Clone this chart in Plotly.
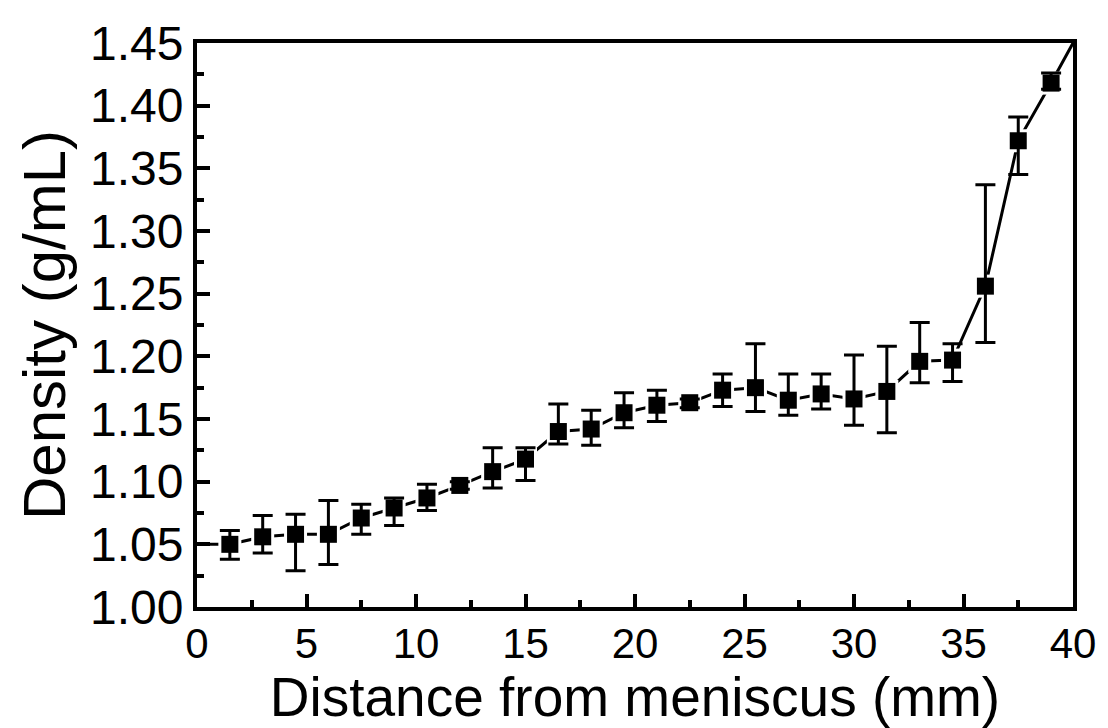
import plotly.graph_objects as go

distance = [1.5, 3.0, 4.5, 6.0, 7.5, 9.0, 10.5, 12.0, 13.5, 15.0, 16.5, 18.0, 19.5,
            21.0, 22.5, 24.0, 25.5, 27.0, 28.5, 30.0, 31.5, 33.0, 34.5, 36.0, 37.5, 39.0]
density = [1.050, 1.056, 1.058, 1.058, 1.071, 1.079, 1.087, 1.097, 1.108, 1.118, 1.140, 1.142, 1.155,
           1.161, 1.163, 1.173, 1.175, 1.165, 1.170, 1.166, 1.172, 1.196, 1.197, 1.256, 1.372, 1.418]
err_hi = [1.061, 1.073, 1.074, 1.085, 1.082, 1.087, 1.098, 1.100, 1.127, 1.127, 1.162, 1.157, 1.171,
          1.173, 1.166, 1.186, 1.210, 1.186, 1.186, 1.201, 1.208, 1.227, 1.210, 1.337, 1.391, 1.426]
err_lo = [1.038, 1.043, 1.029, 1.034, 1.058, 1.065, 1.077, 1.094, 1.095, 1.101, 1.130, 1.129, 1.143,
          1.148, 1.159, 1.160, 1.156, 1.153, 1.158, 1.145, 1.139, 1.179, 1.180, 1.211, 1.345, 1.413]

# connecting line continues to the plot edges
edge_x = [0.0, 40.0]
edge_y = [1.050, 1.450]

line_x = [edge_x[0]] + distance + [edge_x[1]]
line_y = [edge_y[0]] + density + [edge_y[1]]

plus = [h - d for h, d in zip(err_hi, density)]
minus = [d - l for d, l in zip(density, err_lo)]

FONT = "Liberation Sans, Arial, sans-serif"

fig = go.Figure()
fig.add_trace(go.Scatter(x=line_x, y=line_y, mode="lines",
                         line=dict(color="black", width=3), showlegend=False,
                         cliponaxis=True))
# white halo around markers to create gaps in the line
fig.add_trace(go.Scatter(x=distance, y=density, mode="markers",
                         marker=dict(symbol="square", size=23, color="white"),
                         showlegend=False))
fig.add_trace(go.Scatter(x=distance, y=density, mode="markers",
                         marker=dict(symbol="square", size=17, color="black"),
                         error_y=dict(type="data", symmetric=False, array=plus, arrayminus=minus,
                                      color="black", thickness=3, width=10),
                         showlegend=False))

axis_common = dict(showline=True, linecolor="black", linewidth=4, mirror=True,
                   ticks="inside", ticklen=13, tickwidth=4, tickcolor="black",
                   showgrid=False, zeroline=False)

fig.update_xaxes(range=[0, 40], tick0=0, dtick=5,
                 minor=dict(ticks="inside", ticklen=7, tickwidth=4, tickcolor="black", dtick=2.5),
                 tickfont=dict(family=FONT, size=42, color="black"),
                 ticklabelstandoff=-3,
                 title=dict(text="Distance from meniscus (mm)",
                            font=dict(family=FONT, size=55, color="black"), standoff=10),
                 **axis_common)
fig.update_yaxes(range=[1.0, 1.45], tick0=1.0, dtick=0.05, tickformat=".2f",
                 minor=dict(ticks="inside", ticklen=7, tickwidth=4, tickcolor="black", dtick=0.025),
                 tickfont=dict(family=FONT, size=48, color="black"),
                 title=dict(text="Density (g/mL)",
                            font=dict(family=FONT, size=60, color="black"), standoff=6),
                 **axis_common)

fig.update_layout(width=1108, height=728,
                  margin=dict(l=197, r=33, t=43, b=120),
                  plot_bgcolor="white", paper_bgcolor="white")

fig.write_html("out.html")
